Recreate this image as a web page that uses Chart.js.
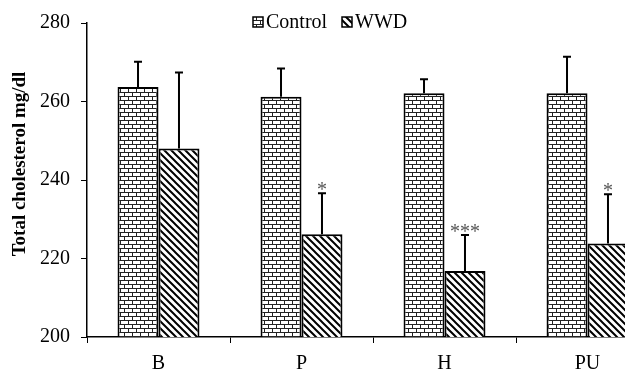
<!DOCTYPE html>
<html>
<head>
<meta charset="utf-8">
<script src="https://cdn.jsdelivr.net/npm/chart.js@4"></script>
<style>
  html, body { margin: 0; padding: 0; background: #fff; overflow: hidden; }
  #wrap { width: 662px; height: 372px; }
</style>
</head>
<body>
<div id="wrap"><canvas id="chartCanvas"></canvas></div>
<script>
const categories = ["B", "P", "H", "PU"];
const controlMeans = [263.7, 261.2, 262.1, 262.1];
const controlSD = [6.4, 7.2, 3.6, 9.3];
const wwdMeans = [248.0, 226.2, 216.8, 223.8];
const wwdSD = [19.4, 10.4, 9.2, 12.6];
const wwdStars = ["", "*", "***", "*"];
const yTicks = [200, 220, 240, 260, 280];
const yTitle = "Total cholesterol mg/dl";

const serif = "'Liberation Serif', 'Times New Roman', serif";

// brick fill for Control
const makeBrick = () => {
    const c = document.createElement("canvas");
    c.width = 8; c.height = 8;
    const g = c.getContext("2d");
    g.fillStyle = "#fff";
    g.fillRect(0, 0, 8, 8);
    g.fillStyle = "#222";
    g.fillRect(0, 0, 8, 1);
    g.fillRect(0, 4, 8, 1);
    g.fillRect(0, 1, 1, 3);
    g.fillRect(4, 5, 1, 3);
    return g.createPattern(c, "repeat");
};

// diagonal hatch for WWD
const makeHatch = () => {
    const s = 7;
    const c = document.createElement("canvas");
    c.width = s; c.height = s;
    const g = c.getContext("2d");
    g.fillStyle = "#fff";
    g.fillRect(0, 0, s, s);
    g.strokeStyle = "#000";
    g.lineWidth = 2;
    g.beginPath();
    g.moveTo(-1, -1); g.lineTo(s + 1, s + 1);
    g.moveTo(-2, s - 2); g.lineTo(2, s + 2);
    g.moveTo(s - 2, -2); g.lineTo(s + 2, 2);
    g.stroke();
    return g.createPattern(c, "repeat");
};

const brick = makeBrick();
const hatch = makeHatch();

const errorBars = {
    id: "errorBars",
    afterDatasetsDraw(chart) {
        const ctx = chart.ctx;
        const y = chart.scales.y;
        const sds = [controlSD, wwdSD];
        ctx.save();
        ctx.strokeStyle = "#000";
        ctx.lineWidth = 2;
        chart.data.datasets.forEach((ds, i) => {
            const meta = chart.getDatasetMeta(i);
            meta.data.forEach((bar, j) => {
                const top = y.getPixelForValue(ds.data[j] + sds[i][j]);
                ctx.beginPath();
                ctx.moveTo(bar.x, bar.y);
                ctx.lineTo(bar.x, top);
                ctx.moveTo(bar.x - 4, top);
                ctx.lineTo(bar.x + 4, top);
                ctx.stroke();
                if (i === 1 && wwdStars[j]) {
                    ctx.fillStyle = "#555";
                    ctx.font = "20px " + serif;
                    ctx.textAlign = "center";
                    ctx.textBaseline = "alphabetic";
                    ctx.fillText(wwdStars[j], bar.x, top + 3);
                }
            });
        });
        ctx.restore();
    },
};

const legendAndTitle = {
    id: "legendAndTitle",
    afterDraw(chart) {
        const ctx = chart.ctx;
        const items = [
            { label: "Control", fill: brick, x: 253 },
            { label: "WWD", fill: hatch, x: 342 },
        ];
        ctx.save();
        ctx.font = "20px " + serif;
        ctx.textBaseline = "alphabetic";
        ctx.textAlign = "left";
        items.forEach((it) => {
            ctx.fillStyle = it.fill;
            ctx.fillRect(it.x, 17, 10, 10);
            ctx.strokeStyle = "#000";
            ctx.lineWidth = 1.5;
            ctx.strokeRect(it.x, 17, 10, 10);
            ctx.fillStyle = "#000";
            ctx.fillText(it.label, it.x + 13, 28);
        });

        // y axis title, sits a bit above the plot centre like the original
        ctx.translate(20, 164);
        ctx.rotate(-Math.PI / 2);
        ctx.font = "bold 19px " + serif;
        ctx.textAlign = "center";
        ctx.textBaseline = "middle";
        ctx.fillText(yTitle, 0, 0);
        ctx.restore();
    },
};

new Chart(document.getElementById("chartCanvas"), {
    type: "bar",
    data: {
        labels: categories,
        datasets: [
            {
                label: "Control",
                data: controlMeans,
                backgroundColor: brick,
                borderColor: "#000",
                borderWidth: 2,
                borderSkipped: false,
            },
            {
                label: "WWD",
                data: wwdMeans,
                backgroundColor: hatch,
                borderColor: "#000",
                borderWidth: 2,
                borderSkipped: false,
            },
        ],
    },
    options: {
        responsive: true,
        maintainAspectRatio: false,
        animation: false,
        layout: { padding: { top: 16, right: 3, left: 0, bottom: 0 } },
        datasets: { bar: { categoryPercentage: 0.573, barPercentage: 1 } },
        plugins: {
            legend: { display: false },
            tooltip: { enabled: false },
        },
        scales: {
            x: {
                grid: { drawOnChartArea: false, offset: true, tickLength: 6, tickColor: "#000" },
                border: { color: "#000", width: 1.5 },
                ticks: { color: "#000", font: { family: serif, size: 20 }, padding: 9 },
                afterFit: (s) => { s.height = 35; },
            },
            y: {
                min: 200,
                max: 280,
                afterBuildTicks: (s) => { s.ticks = yTicks.map((v) => ({ value: v })); },
                grid: { drawOnChartArea: false, tickLength: 6, tickColor: "#000" },
                border: { color: "#000", width: 1.5 },
                ticks: { color: "#000", font: { family: serif, size: 20 }, padding: 11 },
                afterFit: (s) => { s.width = 87; },
            },
        },
    },
    plugins: [errorBars, legendAndTitle],
});
</script>
</body>
</html>
